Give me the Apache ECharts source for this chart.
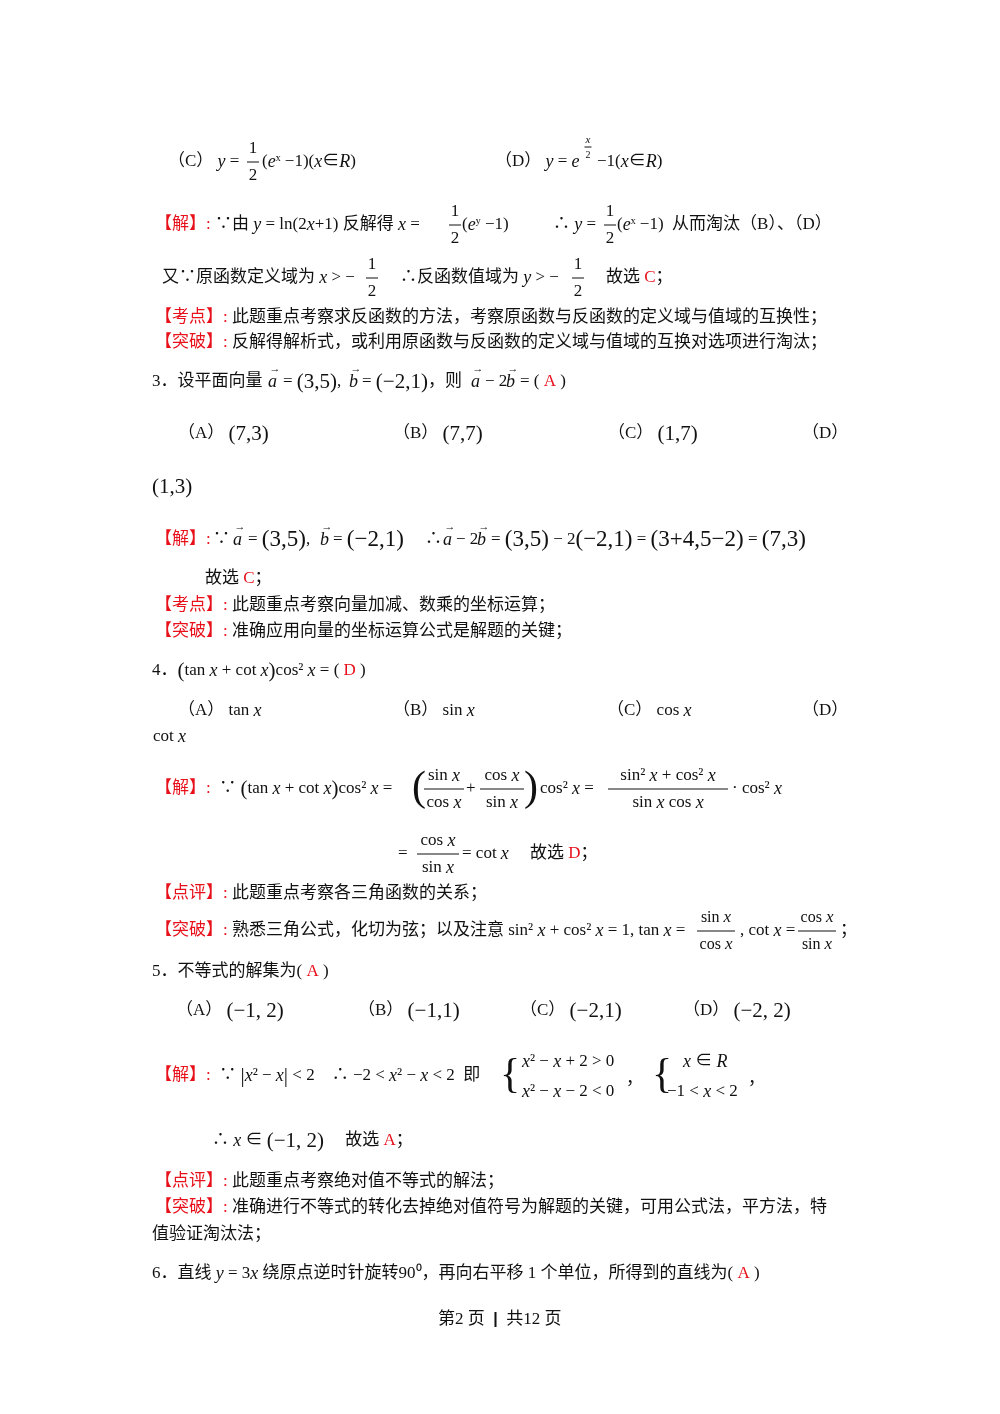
<!DOCTYPE html><html><head><meta charset="utf-8"><script src="https://cdn.jsdelivr.net/npm/echarts@6/dist/echarts.min.js"></script>
<style>html,body{margin:0;background:#fff}#c{width:1000px;height:1414px}</style></head><body><div id="c"></div><script>
// text segments: [x, y(center), rich text]
const segments = [
 [168,162,'（C） {i|y} = '],[262,162,'({i|e}ˣ −1)({i|x}∈{i|R})'],
 [495,162,'（D） {i|y} = {i|e}'],[597,162,'−1({i|x}∈{i|R})'],
 [155,225,'{r|【解】:} ∵由 {i|y} = ln(2{i|x}+1) 反解得 {i|x} = '],[462,225,'({i|e}ʸ −1)'],
 [553,225,'∴ {i|y} = '],[617,225,'({i|e}ˣ −1)  从而淘汰（B）、（D）'],
 [162,278,'又∵原函数定义域为 {i|x} > −'],[400,278,'∴反函数值域为 {i|y} > −'],[606,278,'故选 {r|C}；'],
 [155,318,'{r|【考点】:} 此题重点考察求反函数的方法，考察原函数与反函数的定义域与值域的互换性；'],
 [155,343,'{r|【突破】:} 反解得解析式，或利用原函数与反函数的定义域与值域的互换对选项进行淘汰；'],
 [152,382,'3．设平面向量'],[268,382,'{i|a}'],[283,382,'= {b|(3,5)},'],[349,382,'{i|b}'],[362,382,'= {b|(−2,1)}，则'],[471,382,'{i|a}'],[485,382,'− 2'],[506,382,'{i|b}'],[520,382,'= ( {r|A} )'],
 [178,434,'（A） {b|(7,3)}'],[393,434,'（B） {b|(7,7)}'],[608,434,'（C） {b|(1,7)}'],[802,434,'（D）'],
 [152,487,'{b|(1,3)}'],
 [155,540,'{r|【解】:}'],[213,540,'∵'],[233,540,'{i|a}'],[248,540,'= {B|(3,5)},'],[320,540,'{i|b}'],[333,540,'= {B|(−2,1)}'],[425,540,'∴'],[443,540,'{i|a}'],[456,540,'− 2'],[477,540,'{i|b}'],[491,540,'= {B|(3,5)} − 2{B|(−2,1)} = {B|(3+4,5−2)} = {B|(7,3)}'],
 [205,579,'故选 {r|C}；'],
 [155,606,'{r|【考点】:} 此题重点考察向量加减、数乘的坐标运算；'],
 [155,632,'{r|【突破】:} 准确应用向量的坐标运算公式是解题的关键；'],
 [152,671,'4．{b|(}tan {i|x} + cot {i|x}{b|)}cos² {i|x} = ( {r|D} )'],
 [178,711,'（A） tan {i|x}'],[393,711,'（B） sin {i|x}'],[607,711,'（C） cos {i|x}'],[802,711,'（D）'],
 [153,737,'cot {i|x}'],
 [155,789,'{r|【解】:}  ∵ {b|(}tan {i|x} + cot {i|x}{b|)}cos² {i|x} = '],[412,789,'{h|(}'],[466,789,'+'],[524,789,'{h|)}'],[540,789,'cos² {i|x} = '],[732,789,'· cos² {i|x}'],
 [398,854,'= '],[462,854,'= cot {i|x}     故选 {r|D}；'],
 [155,894,'{r|【点评】:} 此题重点考察各三角函数的关系；'],
 [155,931,'{r|【突破】:} 熟悉三角公式，化切为弦；以及注意 sin² {i|x} + cos² {i|x} = 1, tan {i|x} = '],[740,931,', cot {i|x} = '],[840,931,'；'],
 [152,972,'5．不等式的解集为( {r|A} )'],
 [176,1011,'（A） {b|(−1, 2)}'],[358,1011,'（B） {b|(−1,1)}'],[520,1011,'（C） {b|(−2,1)}'],[683,1011,'（D） {b|(−2, 2)}'],
 [155,1076,'{r|【解】:}  ∵ {b||}{i|x}² − {i|x}{b||} < 2    ∴ −2 < {i|x}² − {i|x} < 2  即'],[500,1076,'{h|{}'],
 [522,1062,'{i|x}² − {i|x} + 2 > 0'],[522,1092,'{i|x}² − {i|x} − 2 < 0'],[626,1080,'，'],[652,1076,'{h|{}'],
 [683,1062,'{i|x} ∈ {i|R}'],[667,1092,'−1 < {i|x} < 2'],[748,1080,'，'],
 [212,1141,'∴ {i|x} ∈ {b|(−1, 2)}     故选 {r|A}；'],
 [155,1182,'{r|【点评】:} 此题重点考察绝对值不等式的解法；'],
 [155,1208,'{r|【突破】:} 准确进行不等式的转化去掉绝对值符号为解题的关键，可用公式法，平方法，特'],
 [152,1235,'值验证淘汰法；'],
 [152,1274,'6．直线 {i|y} = 3{i|x} 绕原点逆时针旋转90⁰，再向右平移 1 个单位，所得到的直线为( {r|A} )'],
 [438,1320,'第2 页  {bold||}  共12 页']
];
// vector arrows over letters: [x, y]
const arrows = [[275,382],[356,382],[478,382],[513,382],[240,540],[327,540],[450,540],[484,540]];
// fractions: [xCenter, yBar, numerator, denominator, barWidth, fontSize]
const fractions = [
 [253,162,'1','2',12,17],[588,147,'{i|x}','2',7,10],
 [455,225,'1','2',12,17],[610,225,'1','2',12,17],
 [372,278,'1','2',12,17],[578,278,'1','2',12,17],
 [444,789,'sin {i|x}','cos {i|x}',40,17],[502,789,'cos {i|x}','sin {i|x}',44,17],[668,789,'sin² {i|x} + cos² {i|x}','sin {i|x} cos {i|x}',120,17],
 [438,854,'cos {i|x}','sin {i|x}',42,17],
 [716,931,'sin {i|x}','cos {i|x}',38,16],[817,931,'cos {i|x}','sin {i|x}',38,16]
];
const F='"Liberation Serif","Noto Sans CJK SC",serif';
const rich={r:{fill:'#e8101a',fontSize:17,fontFamily:F},i:{fontStyle:'italic',fontSize:18,fontFamily:F},
 b:{fontSize:21,fontFamily:F},B:{fontSize:23,fontFamily:F},h:{fontSize:42,fontFamily:F,fontWeight:100},bold:{fontWeight:'bold',fontSize:16}};
const els=[];
function txt(x,y,t,align,size){const fs=size||17;const rr={};for(const k in rich){rr[k]=Object.assign({},rich[k]);if(k==='i')rr[k].fontSize=Math.round(fs*1.06);}
 els.push({type:'text',x:x,y:y,style:{text:t,rich:rr,fill:'#111',font:fs+'px '+F,verticalAlign:'middle',align:align||'left'}});}
segments.forEach(s=>txt(s[0],s[1],s[2]));
arrows.forEach(a=>txt(a[0],a[1]-13,'→','center',11));
fractions.forEach(f=>{const d=f[5]>12?13:7;txt(f[0],f[1]-d,f[2],'center',f[5]);txt(f[0],f[1]+d+1,f[3],'center',f[5]);
 els.push({type:'line',shape:{x1:f[0]-f[4]/2,y1:f[1],x2:f[0]+f[4]/2,y2:f[1]},style:{stroke:'#111',lineWidth:1}});});
const ch=echarts.init(document.getElementById('c'));
ch.setOption({backgroundColor:'#fff',graphic:els});
</script></body></html>
